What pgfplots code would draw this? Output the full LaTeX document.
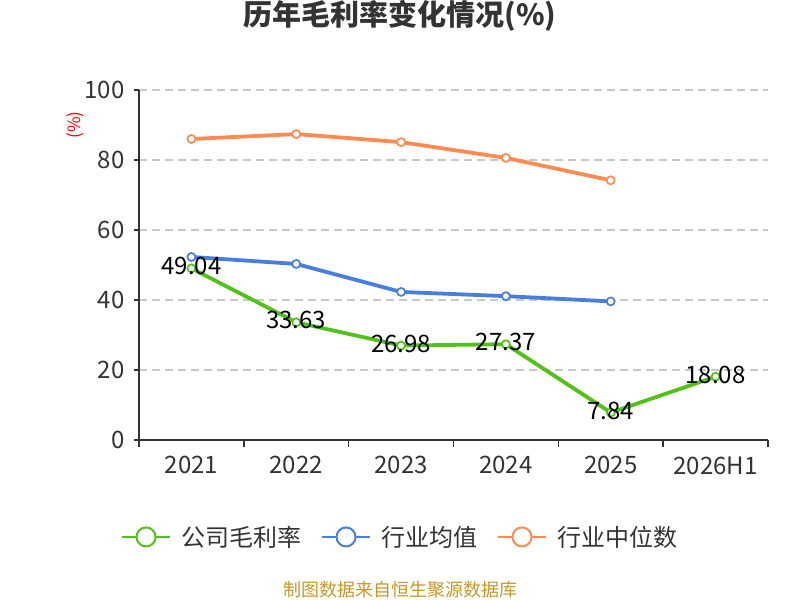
\documentclass[border=0pt]{standalone}
\usepackage{pgfplots}
\pgfplotsset{compat=1.18}
\usepackage{fontspec}
\setmainfont{Noto Sans CJK SC}
\definecolor{cgreen}{RGB}{82,194,26}
\definecolor{cblue}{RGB}{72,126,222}
\definecolor{corange}{RGB}{255,138,82}
\definecolor{ctext}{RGB}{51,51,51}
\definecolor{cgrid}{RGB}{200,200,200}
\definecolor{cgold}{RGB}{200,150,40}
\begin{document}
\begin{tikzpicture}
\useasboundingbox (0,0) rectangle (800bp,600bp);
\begin{axis}[
  at={(139bp,160bp)}, anchor=south west,
  scale only axis, width=629bp, height=350bp,
  xmin=-0.5, xmax=5.5, ymin=0, ymax=100,
  axis x line*=bottom, axis y line*=left,
  axis line style={ctext, line width=1.5bp, -},
  xtick={0,1,2,3,4,5},
  xticklabels={2021,2022,2023,2024,2025,2026H1},
  minor xtick={-0.5,0.5,1.5,2.5,3.5,4.5,5.5},
  major x tick style={draw=none},
  minor x tick style={ctext, line width=1.5bp},
  minor tick length=7bp,
  ytick={0,20,40,60,80,100},
  major y tick style={ctext, line width=1.5bp},
  major tick length=5bp,
  tick align=outside,
  ymajorgrids,
  grid style={cgrid, line width=1.3bp, dash pattern=on 8bp off 5bp},
  /pgf/number format/assume math mode=true,
  ticklabel style={font=\fontsize{24bp}{26bp}\selectfont, text=ctext},
  xticklabel style={yshift=-8bp},
  yticklabel style={xshift=-6bp},
  ylabel={(\%)},
  ylabel style={at={(axis description cs:-0.102,0.9)}, anchor=center, text=red, font=\fontsize{17bp}{19bp}\selectfont},
  title={\textbf{历年毛利率变化情况(\%)}},
  title style={at={(axis description cs:0.415,1.194)}, anchor=center, text=ctext, font=\fontsize{29bp}{31bp}\selectfont},
  legend columns=3,
  legend style={at={(axis description cs:0.415,-0.277)}, anchor=center, draw=none, fill=none,
    font=\fontsize{24bp}{26bp}\selectfont, text=ctext,
    /tikz/every odd column/.append style={column sep=8bp},
    /tikz/every even column/.append style={column sep=18bp}},
  legend image code/.code={
    \draw[line width=2bp] (0bp,0bp) -- (48bp,0bp);
    \draw[line width=2bp, fill=white] (24bp,0bp) circle (9.5bp);
  },
  clip=false,
]
\addplot[cgreen, line width=3.8bp, mark=*, mark size=4bp, mark options={fill=white, line width=1.7bp},
  nodes near coords, point meta=explicit symbolic,
  every node near coord/.append style={anchor=center, yshift=2bp, text=black, font=\fontsize{24bp}{26bp}\selectfont}]
  coordinates {(0,49.04)[49.04] (1,33.63)[33.63] (2,26.98)[26.98] (3,27.37)[27.37] (4,7.84)[7.84] (5,18.08)[18.08]};
\addlegendentry{公司毛利率}
\addplot[cblue, line width=3.8bp, mark=*, mark size=4bp, mark options={fill=white, line width=1.7bp}]
  coordinates {(0,52.3) (1,50.3) (2,42.3) (3,41.1) (4,39.6)};
\addlegendentry{行业均值}
\addplot[corange, line width=3.8bp, mark=*, mark size=4bp, mark options={fill=white, line width=1.7bp}]
  coordinates {(0,86.0) (1,87.4) (2,85.1) (3,80.6) (4,74.2)};
\addlegendentry{行业中位数}
\node[text=cgold, font=\fontsize{18bp}{20bp}\selectfont, anchor=center] at (axis description cs:0.415,-0.4286) {制图数据来自恒生聚源数据库};
\end{axis}
\end{tikzpicture}
\end{document}
